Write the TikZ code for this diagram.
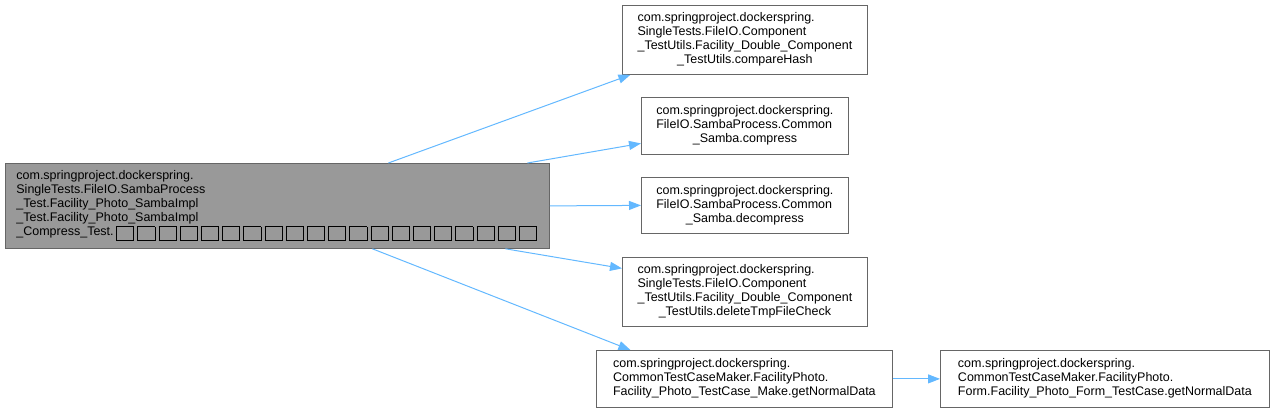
\documentclass[tikz,border=0pt]{standalone}
\usepackage{fontspec}
\setmainfont{Liberation Sans}
\usetikzlibrary{arrows.meta}
\definecolor{edgeblue}{HTML}{63B8FF}
\definecolor{boxborder}{HTML}{666666}
\definecolor{mainfill}{HTML}{999999}
\newcommand\tofubox{\hspace{1.6pt}\raisebox{-4.5pt}{\setlength{\fboxsep}{0pt}\setlength{\fboxrule}{0.9pt}\fbox{\rule{0pt}{13.2pt}\hspace{16.2pt}}}\hspace{1.6pt}}
\newcommand\lbl[2]{\begin{tabular}{@{}l@{}}#1\\\multicolumn{1}{@{}c@{}}{#2}\end{tabular}}
\begin{document}
\begin{tikzpicture}[x=1pt,y=-1pt,
  box/.style={draw=boxborder, line width=0.8pt, fill=white, inner sep=0pt,
    anchor=north west, font=\fontsize{12.5}{14}\selectfont, text=black},
  edge/.style={draw=edgeblue, line width=1pt,
    -{Triangle[length=12pt,width=9pt]}}]
\useasboundingbox (0,0) rectangle (1275,411);
\node[box, fill=mainfill, minimum width=544pt, minimum height=85pt,
  text width=522pt, align=left] (main) at (5,163)
  {com.springproject.dockerspring.\\
   SingleTests.FileIO.SambaProcess\\
   \_Test.Facility\_Photo\_SambaImpl\\
   \_Test.Facility\_Photo\_SambaImpl\\
   \_Compress\_Test.\hspace{1pt}\tofubox\tofubox\tofubox\tofubox\tofubox\tofubox\tofubox\tofubox\tofubox\tofubox\tofubox\tofubox\tofubox\tofubox\tofubox\tofubox\tofubox\tofubox\tofubox\tofubox};
\node[box, minimum width=245pt, minimum height=69pt] (n1) at (622,5)
  {\lbl{com.springproject.dockerspring.\\SingleTests.FileIO.Component\\\_TestUtils.Facility\_Double\_Component}{\_TestUtils.compareHash}};
\node[box, minimum width=207pt, minimum height=57pt] (n2) at (641,97)
  {\lbl{com.springproject.dockerspring.\\FileIO.SambaProcess.Common}{\_Samba.compress}};
\node[box, minimum width=207pt, minimum height=56pt] (n3) at (641,177)
  {\lbl{com.springproject.dockerspring.\\FileIO.SambaProcess.Common}{\_Samba.decompress}};
\node[box, minimum width=245pt, minimum height=69pt] (n4) at (622,257)
  {\lbl{com.springproject.dockerspring.\\SingleTests.FileIO.Component\\\_TestUtils.Facility\_Double\_Component}{\_TestUtils.deleteTmpFileCheck}};
\node[box, minimum width=296pt, minimum height=57pt] (n5) at (596,350)
  {\lbl{com.springproject.dockerspring.\\CommonTestCaseMaker.FacilityPhoto.}{Facility\_Photo\_TestCase\_Make.getNormalData}};
\node[box, minimum width=329pt, minimum height=57pt] (n6) at (940,350)
  {\lbl{com.springproject.dockerspring.\\CommonTestCaseMaker.FacilityPhoto.}{Form.Facility\_Photo\_Form\_TestCase.getNormalData}};
\draw[edge] ([xshift=111pt]main.north) -- ([xshift=-114.5pt]n1.south);
\draw[edge] ([xshift=250pt]main.north) -- ([yshift=-17.5pt]n2.west);
\draw[edge] (main.east) -- (n3.west);
\draw[edge] ([xshift=228pt]main.south) -- ([yshift=23.5pt]n4.west);
\draw[edge] ([xshift=95pt]main.south) -- ([xshift=-114pt]n5.north);
\draw[edge] (n5) -- (n6);
\end{tikzpicture}
\end{document}
